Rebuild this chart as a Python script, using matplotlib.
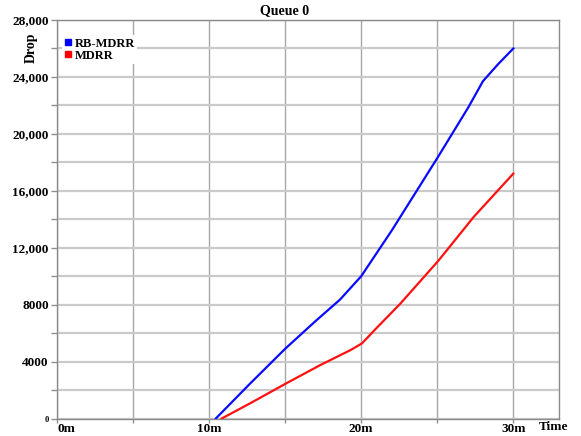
import matplotlib
matplotlib.use("Agg")
import matplotlib.pyplot as plt
from matplotlib.lines import Line2D

plt.rcParams["font.family"] = ["Liberation Serif", "DejaVu Serif"]
plt.rcParams["font.weight"] = "bold"

# data (time in minutes, drops)
rb_time = [10.44, 12.7, 15.0, 17.0, 18.6, 20.0, 22.0, 25.0, 27.06, 28.0, 29.0, 30.0]
rb_drop = [0, 2460, 4900, 6850, 8350, 10000, 13200, 18300, 21900, 23700, 24900, 26000]

mdrr_time = [10.83, 12.7, 15.07, 17.3, 19.3, 20.05, 21.0, 22.57, 25.09, 27.39, 30.0]
mdrr_drop = [0, 1070, 2470, 3750, 4810, 5280, 6350, 8070, 11110, 14160, 17210]

x_major = [0, 10, 20, 30]
x_labels = ["0m", "10m", "20m", "30m"]
x_minor = [5, 15, 25]
y_major = [0, 4000, 8000, 12000, 16000, 20000, 24000, 28000]
y_labels = ["0", "4000", "8000", "12,000", "16,000", "20,000", "24,000", "28,000"]
y_minor = [2000, 6000, 10000, 14000, 18000, 22000, 26000]

W, H = 581, 436
fig = plt.figure(figsize=(W / 100, H / 100), dpi=100)
ax = fig.add_axes([57 / W, (H - 418.5) / H, (559 - 57) / W, (418.5 - 20) / H])

ax.plot(rb_time, rb_drop, color="#0a0aff", lw=1.6, zorder=3)
ax.plot(mdrr_time, mdrr_drop, color="#ff1010", lw=1.6, zorder=3)

ax.set_xlim(0, 33)
ax.set_ylim(0, 28000)

ax.set_xticks(x_major)
ax.set_xticklabels(x_labels, fontsize=9.5, fontweight="bold")
ax.get_xticklabels()[0].set_horizontalalignment("left")
ax.set_xticks(x_minor, minor=True)
ax.set_yticks(y_major)
ax.set_yticklabels(y_labels, fontsize=9.5, fontweight="bold")
ax.set_yticks(y_minor, minor=True)
ax.get_yticklabels()[0].set_fontsize(6)

ax.tick_params(which="both", direction="out", color="#909090", width=1)
ax.tick_params(axis="y", which="both", length=4, pad=2)
ax.tick_params(axis="x", which="both", length=3, pad=0.5)

ax.grid(True, axis="x", which="both", color="#a8a8a8", lw=1.0)
ax.grid(True, axis="y", which="both", color="#cacaca", lw=1.6)
ax.set_axisbelow(True)
for s in ax.spines.values():
    s.set_color("#8a8a8a")
    s.set_linewidth(1.0)

handles = [
    Line2D([], [], ls="none", marker="s", markersize=4, color="#0000ff"),
    Line2D([], [], ls="none", marker="s", markersize=4, color="#ff0000"),
]
leg = ax.legend(handles, ["RB-MDRR", "MDRR"], loc="upper left",
                bbox_to_anchor=(0.01, 0.962), frameon=True, fancybox=False,
                edgecolor="none", framealpha=1, labelspacing=0.0,
                handlelength=0.5, handletextpad=0.3, borderpad=0.2,
                borderaxespad=0, prop={"weight": "bold", "size": 9})

fig.text(285 / W, 1 - 11 / H, "Queue 0", ha="center", va="center",
         fontsize=10, fontweight="bold")
fig.text(31 / W, 1 - 48 / H, "Drop", ha="center", va="center",
         rotation=90, fontsize=10, fontweight="bold")
fig.text(554 / W, 1 - 427 / H, "Time", ha="center", va="center",
         fontsize=9.5, fontweight="bold")

fig.savefig("out.png", dpi=100)
